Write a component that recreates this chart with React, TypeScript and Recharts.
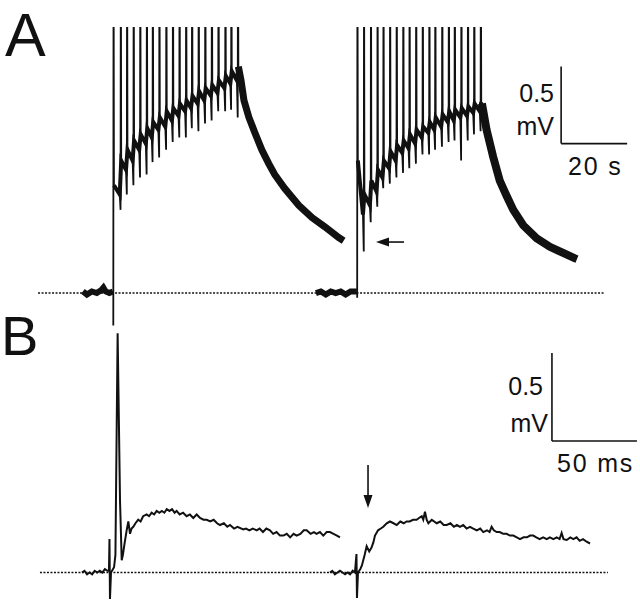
import React from "react";
import { LineChart, Line, XAxis, YAxis, ReferenceLine } from "recharts";

// ---- Panel A: slow time base (s, mV) ----
const A1_BASELINE: [number, number][] = [
  [-9.2, 0.01], [-8, -0.01], [-6.5, 0.01], [-5, 0.0], [-3.6, 0.02],
  [-3.0, 0.035], [-2.3, 0.01], [-1.2, 0.0], [-0.1, 0.01],
];
const A1_STIM = [0, 2.2, 4.1, 6.1, 8.1, 10.1, 11.9, 13.9, 16.0, 18.0, 20.0, 22.0, 23.8, 25.8, 27.8, 29.8, 31.8, 33.9, 35.7, 37.7];
const A1_DIP = [-0.21, 0.54, 0.64, 0.7, 0.75, 0.77, 0.85, 0.88, 0.93, 0.98, 1.01, 1.01, 1.07, 1.05, 1.1, 1.12, 1.18, 1.18, 1.19, 1.14];
const A1_AFTER = [0.7, 0.86, 0.93, 0.99, 1.03, 1.07, 1.11, 1.14, 1.18, 1.2, 1.23, 1.25, 1.28, 1.31, 1.33, 1.35, 1.38, 1.41, 1.44, 1.46];
const A1_BEFORE = [0.64, 0.8, 0.86, 0.93, 0.97, 1.01, 1.06, 1.08, 1.12, 1.15, 1.18, 1.2, 1.23, 1.25, 1.28, 1.3, 1.33, 1.36, 1.38];
const A1_DECAY: [number, number][] = [
  [37.9, 1.47], [38.7, 1.38], [39.6, 1.25], [41.1, 1.14], [42.9, 1.04], [45.0, 0.93], [47.1, 0.84],
  [48.9, 0.77], [51.9, 0.68], [56.2, 0.57], [60.2, 0.49], [64.1, 0.43], [68.3, 0.36], [69.8, 0.34],
];

const A2_OFFSET = 73.9;
const A2_BASELINE: [number, number][] = [
  [-12.5, 0.0], [-11, 0.01], [-9.5, -0.01], [-8, 0.01], [-6.5, 0.0],
  [-5, 0.01], [-3.5, -0.01], [-2, 0.01], [-0.1, 0.01],
];
const A2_STIM = [0, 2.0, 4.1, 6.1, 7.9, 9.9, 11.9, 13.9, 15.8, 17.8, 19.8, 21.8, 23.6, 25.7, 27.7, 29.5, 31.5, 33.5, 35.4, 37.4];
const A2_DIP = [-0.03, 0.27, 0.46, 0.56, 0.68, 0.71, 0.75, 0.78, 0.81, 0.84, 0.9, 0.9, 0.93, 0.95, 0.98, 0.99, 0.86, 0.99, 1.03, 1.05];
const A2_AFTER = [0.86, 0.64, 0.73, 0.8, 0.86, 0.92, 0.96, 0.99, 1.03, 1.06, 1.08, 1.11, 1.14, 1.16, 1.18, 1.19, 1.2, 1.21, 1.23, 1.24];
const A2_BEFORE = [0.51, 0.57, 0.66, 0.75, 0.81, 0.86, 0.91, 0.94, 0.97, 1.01, 1.04, 1.06, 1.08, 1.11, 1.12, 1.14, 1.15, 1.17, 1.18];
const A2_DECAY: [number, number][] = [
  [37.8, 1.23], [39.2, 1.06], [41.2, 0.885], [43.2, 0.73], [45.3, 0.63], [47.3, 0.54],
  [50.3, 0.44], [54.4, 0.355], [58.4, 0.3], [62.4, 0.26], [66.0, 0.225], [66.6, 0.22],
];

// ---- Panel B: fast time base (ms, mV) ----
const B1_TRACE: [number, number][] = [
  [-16.5, 0.0], [-15, 0.01], [-13.5, -0.01], [-12, 0.0], [-10.5, -0.01], [-9, 0.01], [-7.5, 0.0],
  [-6, 0.01], [-4.5, 0.0], [-3, 0.02], [-1.5, 0.01], [-0.6, 0.01], [-0.3, 0.19], [0, -0.15],
  [0.6, 0.0], [2.4, 0.03], [3.2, 0.1], [4.5, 1.36], [5.9, 0.41], [6.9, 0.07], [7.6, 0.1],
  [8.5, 0.16], [9.8, 0.24], [10.8, 0.29], [11.8, 0.22], [12.7, 0.25], [13.7, 0.26], [15, 0.28],
  [16.6, 0.3], [18, 0.29], [19.5, 0.32], [21.6, 0.33], [23, 0.32], [24.5, 0.34], [26, 0.33],
  [27.5, 0.35], [29, 0.34], [30.5, 0.35], [32, 0.34], [33.4, 0.36], [35, 0.35], [36.5, 0.36],
  [38, 0.34], [39.2, 0.35], [41, 0.33], [43, 0.34], [45.1, 0.32], [47, 0.33], [49, 0.31],
  [51, 0.33], [53, 0.31], [55, 0.3], [56.9, 0.3], [59, 0.29], [61, 0.3], [63, 0.28],
  [64.7, 0.27], [67, 0.28], [69, 0.26], [70.6, 0.27], [73, 0.25], [75, 0.26], [78.4, 0.245],
  [80, 0.25], [82, 0.24], [84, 0.25], [86.3, 0.24], [88, 0.25], [90, 0.23], [92, 0.25],
  [94.1, 0.24], [96, 0.22], [98, 0.23], [100, 0.21], [102, 0.21], [104, 0.22], [106, 0.2],
  [108, 0.22], [109.8, 0.21], [112, 0.22], [114, 0.24], [115.7, 0.24], [118, 0.22], [120, 0.23],
  [121.5, 0.22], [123.5, 0.23], [125.5, 0.21], [127.5, 0.23], [129.4, 0.23], [131.5, 0.22],
  [133.5, 0.21], [135.3, 0.2],
];

const B2_OFFSET = 145.3;
const B2_TRACE: [number, number][] = [
  [-15.9, 0.0], [-14.5, 0.01], [-13, -0.01], [-11.5, 0.0], [-10, 0.01], [-8.5, 0.0], [-7, -0.01],
  [-5.5, 0.0], [-4.1, -0.01], [-2.5, 0.01], [-1.2, 0.0], [-0.3, 0.105], [0, -0.145], [0.6, 0.0],
  [2.0, 0.02], [2.9, 0.04], [4.5, 0.1], [5.7, 0.15], [7.2, 0.12], [8.5, 0.14], [9.6, 0.17],
  [10.6, 0.21], [12.4, 0.24], [14, 0.25], [15.5, 0.26], [17.5, 0.28], [19.4, 0.29], [21.5, 0.28],
  [23.4, 0.27], [25.5, 0.29], [27.5, 0.28], [29.2, 0.29], [31, 0.29], [33, 0.3], [35.1, 0.3],
  [36.5, 0.31], [38.1, 0.32], [39, 0.3], [40, 0.345], [41, 0.3], [42, 0.28], [44, 0.3],
  [46.9, 0.28], [49, 0.29], [51, 0.27], [52.8, 0.27], [55, 0.28], [57, 0.26], [58.8, 0.27],
  [60.6, 0.26], [62.5, 0.27], [64.5, 0.25], [66.5, 0.26], [68.4, 0.25], [70.5, 0.24], [72.5, 0.25],
  [74.3, 0.23], [76.5, 0.24], [78, 0.23], [79.2, 0.26], [80.5, 0.24], [82.2, 0.23], [84, 0.23],
  [86, 0.22], [88, 0.22], [90, 0.21], [92, 0.21], [94, 0.2], [95.9, 0.19], [98, 0.2],
  [100, 0.2], [101.8, 0.21], [103.7, 0.21], [105.5, 0.2], [107.5, 0.19], [109.5, 0.2],
  [111.6, 0.19], [113.5, 0.2], [115.5, 0.19], [117.5, 0.2], [119.2, 0.19], [120.4, 0.225],
  [121.5, 0.19], [123.4, 0.185], [125.5, 0.2], [127.3, 0.19], [129.2, 0.2], [131, 0.18],
  [133, 0.19], [135.1, 0.175], [137.1, 0.165],
];

// axis windows, scale bars, annotations
const A_X: [number, number] = [-34.33, 159.6];
const A_Y: [number, number] = [-0.24, 1.727];
const B_X: [number, number] = [-64.7, 311.8];
const B_Y: [number, number] = [-0.156, 1.378];
const SPIKE_TOP = 2.4; // off scale, clipped at the top

const A_BASE_LINE = [-22.8, 149.0];
const B_BASE_LINE = [-41.2, 292.9];
const A_BAR = { t: 135.7, v: 0.97, dt: 20, dv: 0.5 };
const B_BAR = { t: 260, v: 0.747, dt: 50, dv: 0.5 };
const A_ARROW = { from: [88.1, 0.331], to: [79.6, 0.331] };
const B_ARROW = { from: [151.8, 0.611], to: [151.8, 0.366] };

const INK = "#111";
const FONT = "'Liberation Sans', Arial, Helvetica, sans-serif";

type Pt = { t: number; v: number };
const toPts = (arr: [number, number][], offset = 0): Pt[] => arr.map(([t, v]) => ({ t: t + offset, v }));

// thin trace: stimulus dip, off-scale response, then the level after it
function buildTrain(stims: number[], dips: number[], afters: number[], befores: number[], offset = 0) {
  const pts: Pt[] = [];
  stims.forEach((s, i) => {
    if (i > 0) pts.push({ t: offset + s - 0.25, v: befores[i - 1] });
    pts.push({ t: offset + s, v: dips[i] });
    pts.push({ t: offset + s + 0.08, v: SPIKE_TOP });
    pts.push({ t: offset + s + 0.2, v: afters[i] });
  });
  return pts;
}

// the dense, noisy band between the responses
function buildBand(stims: number[], afters: number[], befores: number[], offset = 0) {
  const pts: Pt[] = [];
  stims.forEach((s, i) => {
    pts.push({ t: offset + s + 0.2, v: afters[i] });
    if (i < befores.length) pts.push({ t: offset + stims[i + 1] - 0.25, v: befores[i] });
  });
  return pts;
}

function ArrowShape(props: any) {
  const { x1, y1, x2, y2 } = props;
  const dx = x2 - x1;
  const dy = y2 - y1;
  const len = Math.hypot(dx, dy) || 1;
  const ux = dx / len;
  const uy = dy / len;
  const head = 13;
  const half = 4.5;
  const bx = x2 - ux * head;
  const by = y2 - uy * head;
  return (
    <g>
      <line x1={x1} y1={y1} x2={bx} y2={by} stroke={INK} strokeWidth={1.6} />
      <polygon
        points={`${x2},${y2} ${bx - uy * half},${by + ux * half} ${bx + uy * half},${by - ux * half}`}
        fill={INK}
      />
    </g>
  );
}

function trace(key: string, data: Pt[], width: number) {
  return (
    <Line
      key={key}
      data={data}
      dataKey="v"
      type="linear"
      stroke={INK}
      strokeWidth={width}
      dot={false}
      activeDot={false}
      isAnimationActive={false}
    />
  );
}

function scaleBar(bar: { t: number; v: number; dt: number; dv: number }) {
  return [
    <ReferenceLine
      key="sv"
      segment={[{ x: bar.t, y: bar.v }, { x: bar.t, y: bar.v + bar.dv }]}
      stroke={INK}
      strokeWidth={1.6}
      ifOverflow="visible"
    />,
    <ReferenceLine
      key="sh"
      segment={[{ x: bar.t, y: bar.v }, { x: bar.t + bar.dt, y: bar.v }]}
      stroke={INK}
      strokeWidth={1.6}
      ifOverflow="visible"
    />,
  ];
}

export default function App() {
  const a1Train = buildTrain(A1_STIM, A1_DIP, A1_AFTER, A1_BEFORE);
  const a2Train = buildTrain(A2_STIM, A2_DIP, A2_AFTER, A2_BEFORE, A2_OFFSET);
  const a1Band = buildBand(A1_STIM, A1_AFTER, A1_BEFORE);
  const a2Band = buildBand(A2_STIM, A2_AFTER, A2_BEFORE, A2_OFFSET);

  return (
    <div style={{ position: "absolute", left: 0, top: 0, width: 640, height: 602, background: "#fff", fontFamily: FONT }}>
      <div style={{ position: "absolute", left: 0, top: 0 }}>
        <LineChart width={640} height={330} margin={{ top: 27, right: 0, bottom: 0, left: 0 }}>
          <XAxis type="number" dataKey="t" domain={A_X} hide allowDataOverflow />
          <YAxis type="number" domain={A_Y} hide allowDataOverflow />
          <ReferenceLine
            segment={[{ x: A_BASE_LINE[0], y: 0 }, { x: A_BASE_LINE[1], y: 0 }]}
            stroke={INK}
            strokeWidth={1.4}
            strokeDasharray="2 1.5"
          />
          {trace("a1b", toPts(A1_BASELINE), 6)}
          {trace("a1n", a1Band, 4)}
          {trace("a1t", a1Train, 1.8)}
          {trace("a1d", toPts(A1_DECAY), 7)}
          {trace("a2b", toPts(A2_BASELINE, A2_OFFSET), 6)}
          {trace("a2n", a2Band, 4)}
          {trace("a2t", a2Train, 1.8)}
          {trace("a2d", toPts(A2_DECAY, A2_OFFSET), 8)}
          {scaleBar(A_BAR)}
          <ReferenceLine
            segment={[{ x: A_ARROW.from[0], y: A_ARROW.from[1] }, { x: A_ARROW.to[0], y: A_ARROW.to[1] }]}
            shape={ArrowShape}
            ifOverflow="visible"
          />
        </LineChart>
      </div>
      <div style={{ position: "absolute", left: 0, top: 0 }}>
        <LineChart width={640} height={602} margin={{ top: 330, right: 0, bottom: 2, left: 0 }}>
          <XAxis type="number" dataKey="t" domain={B_X} hide allowDataOverflow />
          <YAxis type="number" domain={B_Y} hide allowDataOverflow />
          <ReferenceLine
            segment={[{ x: B_BASE_LINE[0], y: 0 }, { x: B_BASE_LINE[1], y: 0 }]}
            stroke={INK}
            strokeWidth={1.4}
            strokeDasharray="2 1.5"
          />
          {trace("b1", toPts(B1_TRACE), 2)}
          {trace("b2", toPts(B2_TRACE, B2_OFFSET), 2)}
          {scaleBar(B_BAR)}
          <ReferenceLine
            segment={[{ x: B_ARROW.from[0], y: B_ARROW.from[1] }, { x: B_ARROW.to[0], y: B_ARROW.to[1] }]}
            shape={ArrowShape}
            ifOverflow="visible"
          />
        </LineChart>
      </div>
      <svg width={640} height={602} style={{ position: "absolute", left: 0, top: 0, pointerEvents: "none" }}>
        <g fontFamily={FONT} fill={INK}>
          <text x={5} y={55.5} fontSize={61}>A</text>
          <text x={1} y={355} fontSize={56}>B</text>
          <text x={554} y={102} fontSize={25} textAnchor="end">0.5</text>
          <text x={554} y={135} fontSize={25} textAnchor="end">mV</text>
          <text x={568} y={175} fontSize={25} letterSpacing={1.8}>20 s</text>
          <text x={543} y={395} fontSize={25} textAnchor="end">0.5</text>
          <text x={548} y={432} fontSize={25} textAnchor="end">mV</text>
          <text x={557} y={472} fontSize={25} letterSpacing={1.8}>50 ms</text>
        </g>
      </svg>
    </div>
  );
}
